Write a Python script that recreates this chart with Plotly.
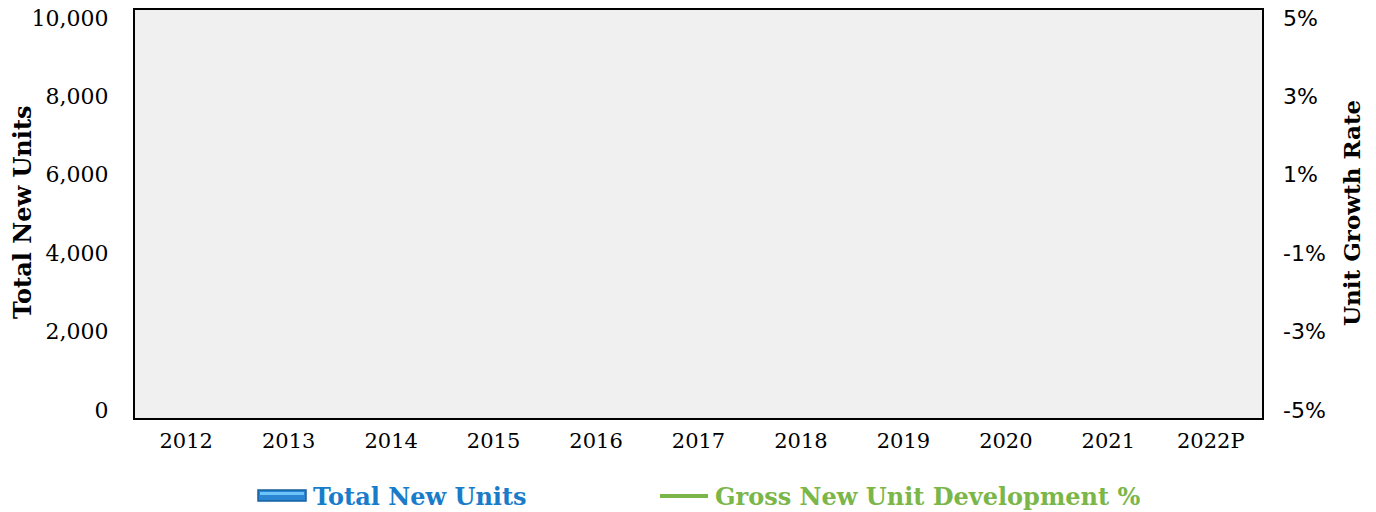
import plotly.graph_objects as go

# ---- data (chart shows no plotted values) ----
years = ["2012", "2013", "2014", "2015", "2016", "2017", "2018", "2019", "2020", "2021", "2022P"]
total_new_units = [None, None, None, None, None, None, None, None, None, None, None]
gross_new_unit_dev_pct = [None, None, None, None, None, None, None, None, None, None, None]

left_tick_vals = [0, 2000, 4000, 6000, 8000, 10000]
left_tick_text = ["0", "2,000", "4,000", "6,000", "8,000", "10,000"]
right_tick_vals = [-5, -3, -1, 1, 3, 5]
right_tick_text = ["-5%", "-3%", "-1%", "1%", "3%", "5%"]

series_names = ["Total New Units", "Gross New Unit Development %"]
left_title = "Total New Units"
right_title = "Unit Growth Rate"

BLUE = "#1a7cc9"
GREEN = "#7ab648"
SERIF = "DejaVu Serif"
SANS = "DejaVu Sans"

W, H = 1376, 512
L, R, T, B = 135, 114, 10, 94
PW, PH = W - L - R, H - T - B


def px_x(px):
    return (px - L) / PW


def px_y(py):
    return (H - B - py) / PH


fig = go.Figure()
fig.add_trace(go.Bar(x=years, y=total_new_units, name=series_names[0],
                     marker_color="#2e8fd8", showlegend=False, yaxis="y"))
fig.add_trace(go.Scatter(x=years, y=gross_new_unit_dev_pct, name=series_names[1],
                         mode="lines", line=dict(color=GREEN, width=3),
                         showlegend=False, yaxis="y2"))

fig.update_layout(
    width=W, height=H,
    margin=dict(l=L, r=R, t=T, b=B, autoexpand=False),
    paper_bgcolor="white",
    plot_bgcolor="#f0f0f0",
    xaxis=dict(type="category", categoryorder="array", categoryarray=years,
               range=[-0.5, len(years) - 0.5], showgrid=False, zeroline=False,
               showline=True, mirror=True, linecolor="black", linewidth=2,
               ticks="", tickfont=dict(family=SERIF, size=21, color="black"),
               ticklabelstandoff=3, ticklabeloverflow="allow", fixedrange=True),
    yaxis=dict(range=[-200, 10200], tickvals=left_tick_vals, ticktext=left_tick_text,
               showgrid=False, zeroline=False, showline=True, mirror=True,
               linecolor="black", linewidth=2, ticks="",
               tickfont=dict(family=SERIF, size=22, color="black"),
               ticklabelstandoff=20, ticklabeloverflow="allow"),
    yaxis2=dict(range=[-5.2, 5.2], tickvals=right_tick_vals, ticktext=right_tick_text,
                overlaying="y", side="right", showgrid=False, zeroline=False,
                showline=False, ticks="",
                tickfont=dict(family=SANS, size=22, color="black"),
                ticklabelstandoff=20, ticklabeloverflow="allow"),
)

annotations = [
    dict(text=f"<b>{left_title}</b>", x=px_x(22), y=px_y(212), xref="paper", yref="paper",
         textangle=-90, showarrow=False, font=dict(family=SERIF, size=24, color="black"),
         xanchor="center", yanchor="middle"),
    dict(text=f"<b>{right_title}</b>", x=px_x(1351), y=px_y(213), xref="paper", yref="paper",
         textangle=-90, showarrow=False, font=dict(family=SERIF, size=23, color="black"),
         xanchor="center", yanchor="middle"),
    dict(text=f"<b>{series_names[0]}</b>", x=px_x(311), y=px_y(496), xref="paper", yref="paper",
         showarrow=False, font=dict(family=SERIF, size=24, color=BLUE),
         xanchor="left", yanchor="middle"),
    dict(text=f"<b>{series_names[1]}</b>", x=px_x(713), y=px_y(496), xref="paper", yref="paper",
         showarrow=False, font=dict(family=SERIF, size=24, color=GREEN),
         xanchor="left", yanchor="middle"),
]

shapes = [
    dict(type="rect", xref="paper", yref="paper", x0=px_x(258), x1=px_x(306),
         y0=px_y(501), y1=px_y(490), fillcolor="#2a86d2",
         line=dict(color="#16629f", width=1.5)),
    dict(type="rect", xref="paper", yref="paper", x0=px_x(260), x1=px_x(304),
         y0=px_y(495), y1=px_y(492), fillcolor="#6cc4f8", line=dict(width=0)),
    dict(type="line", xref="paper", yref="paper", x0=px_x(660), x1=px_x(708),
         y0=px_y(496), y1=px_y(496), line=dict(color=GREEN, width=4)),
]

fig.update_layout(annotations=annotations, shapes=shapes)

fig.write_html(
    "out.html",
    config={"displayModeBar": False},
    post_script="document.body.style.margin='0';document.body.style.overflow='hidden';",
)
